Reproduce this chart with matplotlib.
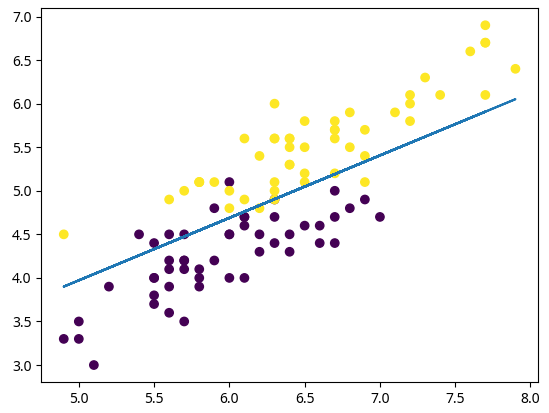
import numpy as np
import matplotlib
matplotlib.use("Agg")
import matplotlib.pyplot as plt

plt.rcParams['font.family'] = ['Noto Sans', 'DejaVu Sans']

# iris: versicolor (0) and virginica (1), sepal length vs petal length
versicolor_sepal = [7.0, 6.4, 6.9, 5.5, 6.5, 5.7, 6.3, 4.9, 6.6, 5.2, 5.0, 5.9, 6.0, 6.1, 5.6, 6.7, 5.6, 5.8, 6.2, 5.6,
                    5.9, 6.1, 6.3, 6.1, 6.4, 6.6, 6.8, 6.7, 6.0, 5.7, 5.5, 5.5, 5.8, 6.0, 5.4, 6.0, 6.7, 6.3, 5.6, 5.5,
                    5.5, 6.1, 5.8, 5.0, 5.6, 5.7, 5.7, 6.2, 5.1, 5.7]
versicolor_petal = [4.7, 4.5, 4.9, 4.0, 4.6, 4.5, 4.7, 3.3, 4.6, 3.9, 3.5, 4.2, 4.0, 4.7, 3.6, 4.4, 4.5, 4.1, 4.5, 3.9,
                    4.8, 4.0, 4.9, 4.7, 4.3, 4.4, 4.8, 5.0, 4.5, 3.5, 3.8, 3.7, 3.9, 5.1, 4.5, 4.5, 4.7, 4.4, 4.1, 4.0,
                    4.4, 4.6, 4.0, 3.3, 4.2, 4.2, 4.2, 4.3, 3.0, 4.1]
virginica_sepal = [6.3, 5.8, 7.1, 6.3, 6.5, 7.6, 4.9, 7.3, 6.7, 7.2, 6.5, 6.4, 6.8, 5.7, 5.8, 6.4, 6.5, 7.7, 7.7, 6.0,
                   6.9, 5.6, 7.7, 6.3, 6.7, 7.2, 6.2, 6.1, 6.4, 7.2, 7.4, 7.9, 6.4, 6.3, 6.1, 7.7, 6.3, 6.4, 6.0, 6.9,
                   6.7, 6.9, 5.8, 6.8, 6.7, 6.7, 6.3, 6.5, 6.2, 5.9]
virginica_petal = [6.0, 5.1, 5.9, 5.6, 5.8, 6.6, 4.5, 6.3, 5.8, 6.1, 5.1, 5.3, 5.5, 5.0, 5.1, 5.3, 5.5, 6.7, 6.9, 5.0,
                   5.7, 4.9, 6.7, 4.9, 5.7, 6.0, 4.8, 4.9, 5.6, 5.8, 6.1, 6.4, 5.6, 5.1, 5.6, 6.1, 5.6, 5.5, 4.8, 5.4,
                   5.6, 5.1, 5.1, 5.9, 5.7, 5.2, 5.0, 5.2, 5.4, 5.1]

# fitted model
slope = 0.717
intercept = 0.387

x = np.array(versicolor_sepal + virginica_sepal)
y = np.array(versicolor_petal + virginica_petal)
labels = np.array([0] * 50 + [1] * 50)

pred = slope * x + intercept

fig, ax = plt.subplots(figsize=(5.49, 4.13), dpi=100)
ax.scatter(x, y, c=labels, cmap='viridis')
ax.plot(x, pred)
fig.subplots_adjust(left=0.075, right=0.98, bottom=0.075, top=0.98)
fig.savefig('out.png')
